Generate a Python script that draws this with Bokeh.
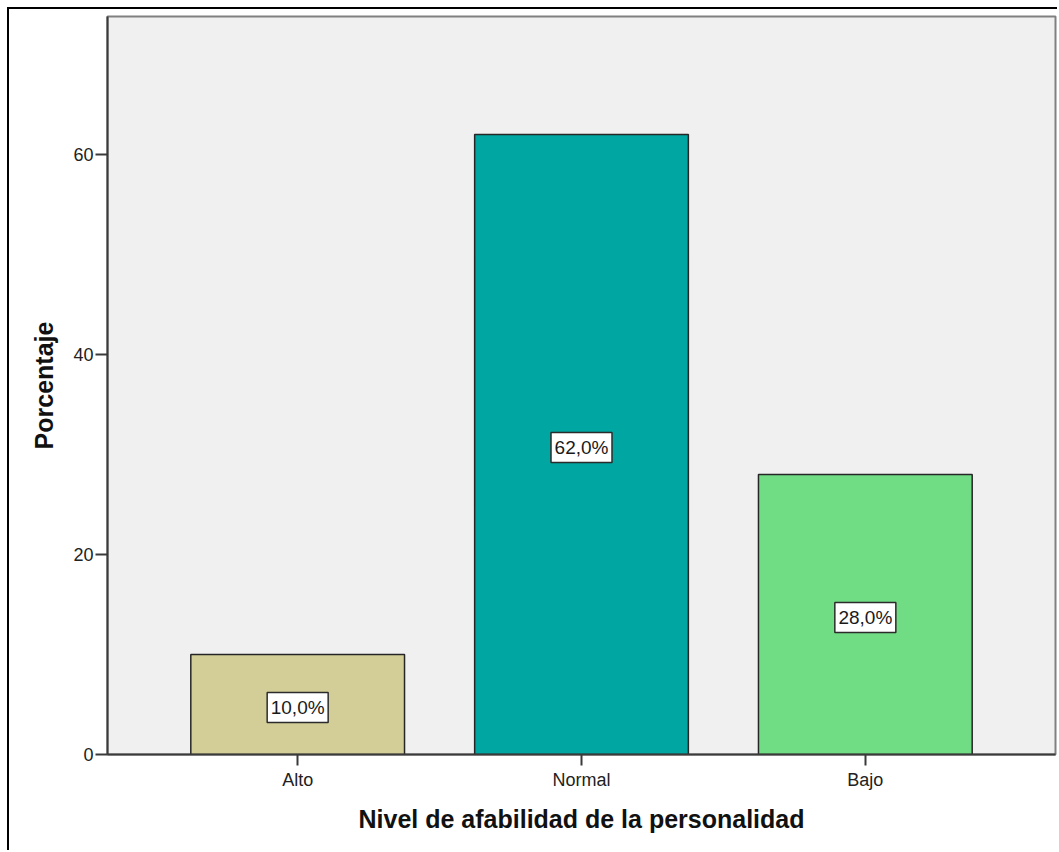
from bokeh.plotting import figure
from bokeh.models import FactorRange, Range1d, FixedTicker, ColumnDataSource
from bokeh.core.properties import value
from bokeh.embed import file_html
from bokeh.resources import INLINE

# Nivel de afabilidad: porcentaje por categoría
categories = ["Alto", "Normal", "Bajo"]
percentages = [10.0, 62.0, 28.0]
bar_colors = ["#D3CE97", "#00A6A1", "#70DC84"]
y_ticks = [0, 20, 40, 60]

FONT = "Liberation Sans"
label_drop = 0.3  # labels sit slightly below the bar middle

labels = [f"{v:.1f}".replace(".", ",") + "%" for v in percentages]
src = ColumnDataSource(dict(
    cat=categories,
    pct=percentages,
    color=bar_colors,
    mid=[v / 2 - label_drop for v in percentages],
    text=labels,
))

p = figure(
    width=1050, height=843,
    x_range=FactorRange(factors=categories, range_padding=0.17, range_padding_units="absolute"),
    y_range=Range1d(0, 73.8),
    output_backend="svg", toolbar_location=None,
    min_border_left=98, min_border_right=4, min_border_top=7, min_border_bottom=98,
)
# chart border (top and left edges fall inside the window)
p.margin = (7, 0, 0, 7)
p.styles = {"border-top": "2px solid black", "border-left": "2px solid black"}

p.background_fill_color = "#F0F0F0"
p.border_fill_color = "white"
p.outline_line_color = "#808080"
p.outline_line_width = 2
p.grid.visible = False

p.vbar(x="cat", top="pct", width=0.753, source=src,
       fill_color="color", line_color="#262626", line_width=1.5)

p.rect(x="cat", y="mid", width=61, height=30, width_units="screen", height_units="screen",
       source=src, fill_color="white", line_color="#2b2b2b", line_width=1.5)
p.text(x="cat", y="mid", text="text", source=src, text_align="center", text_baseline="middle",
       text_font=value(FONT), text_font_size="19px", text_color="#1a1a1a")

# axes
for ax in (p.xaxis, p.yaxis):
    ax.axis_line_color = "#3a3a3a"
    ax.axis_line_width = 2
    ax.major_tick_line_color = "#3a3a3a"
    ax.major_tick_line_width = 2
    ax.major_tick_in = 0
    ax.minor_tick_line_color = None
    ax.major_label_text_font = FONT
    ax.major_label_text_font_size = "18px"
    ax.major_label_text_color = "#222222"
    ax.axis_label_text_font = FONT
    ax.axis_label_text_font_style = "bold"
    ax.axis_label_text_font_size = "25px"
    ax.axis_label_text_color = "#111111"

p.yaxis.ticker = FixedTicker(ticks=y_ticks)
p.yaxis.major_tick_out = 12
p.yaxis.major_label_standoff = 2
p.yaxis.axis_label = "Porcentaje"
p.yaxis.axis_label_standoff = 12

p.xaxis.major_tick_out = 11
p.xaxis.major_label_standoff = 4
p.xaxis.axis_label = "Nivel de afabilidad de la personalidad"
p.xaxis.axis_label_standoff = 12

open("out.html", "w").write(file_html(p, INLINE))
